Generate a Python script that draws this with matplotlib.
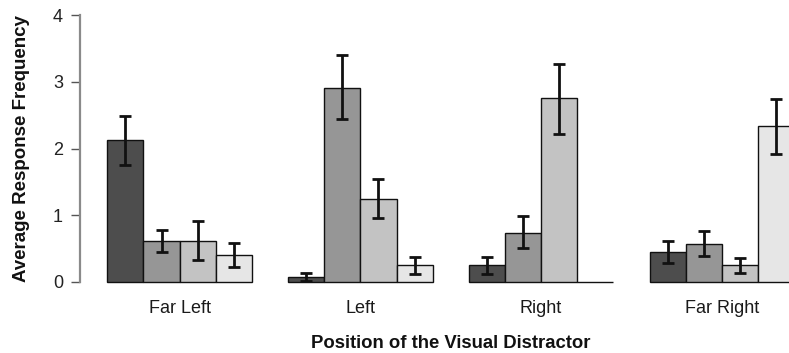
import matplotlib
matplotlib.use('Agg')
from matplotlib import pyplot as plt
import numpy as np

plt.rcParams['font.family'] = ['Liberation Sans', 'DejaVu Sans']

positions = ['Far Left', 'Left', 'Right', 'Far Right']
colors = ['#4d4d4d', '#969696', '#c3c3c3', '#e6e6e6']

# mean per condition, one list per bar shade (rows) across positions
means = [
    [2.12, 0.08, 0.25, 0.45],
    [0.62, 2.91, 0.74, 0.57],
    [0.62, 1.25, 2.75, 0.25],
    [0.41, 0.25, 0.00, 2.33],
]
err_low = [
    [1.76, 0.02, 0.12, 0.29],
    [0.45, 2.44, 0.51, 0.39],
    [0.33, 0.96, 2.22, 0.14],
    [0.23, 0.12, 0.00, 1.92],
]
err_high = [
    [2.49, 0.14, 0.38, 0.62],
    [0.78, 3.40, 0.99, 0.77],
    [0.92, 1.54, 3.27, 0.36],
    [0.59, 0.38, 0.00, 2.74],
]

W, H = 789, 353
fig = plt.figure(figsize=(W / 100, H / 100), dpi=100)
ax = fig.add_axes([80 / W, 1 - 282 / H, 1 - 80 / W, 267 / H])

n_bars = len(means)
group_start = np.arange(len(positions)) * (n_bars + 1) + 1
for i in range(n_bars):
    x = group_start + i + 0.5
    m = np.array(means[i])
    lo = m - np.array(err_low[i])
    hi = np.array(err_high[i]) - m
    ax.bar(x, m, width=1.0, color=colors[i], edgecolor='#111111',
           linewidth=1.0, clip_on=False, zorder=2)
    # no whiskers where the interval collapses to nothing
    keep = (lo + hi) > 0
    ax.errorbar(x[keep], m[keep], yerr=[lo[keep], hi[keep]], fmt='none',
                ecolor='#111111', elinewidth=2.0, capsize=4.2, capthick=2.0,
                zorder=3, clip_on=False)

ax.set_xlim(1 - 27.3 / 36.15, 1 + (789 - 107.3) / 36.15)
ax.set_ylim(0, 4)

for side in ['top', 'right', 'bottom']:
    ax.spines[side].set_visible(False)
ax.spines['left'].set_color('#8a8a8a')
ax.spines['left'].set_linewidth(1.6)
ax.spines['left'].set_bounds(0, 4)

ax.set_yticks([0, 1, 2, 3, 4])
ax.tick_params(axis='y', length=6.7, width=1.0, color='#555555', pad=5.5,
               labelsize=13, labelcolor='#222222')
ax.set_xticks([])

centers = group_start + n_bars / 2
for c, name in zip(centers, positions):
    ax.text(c, -31 / 267, name, transform=ax.get_xaxis_transform(),
            ha='center', va='baseline', fontsize=13, color='#1a1a1a')

fig.text(450.5 / W, 1 - 347.5 / H, 'Position of the Visual Distractor',
         ha='center', va='baseline', fontsize=13.3, fontweight='bold',
         color='#111111')
fig.text(22 / W, 1 - 148.5 / H, 'Average Response Frequency',
         rotation=90, ha='center', va='center', fontsize=13.5,
         fontweight='bold', color='#111111')

fig.savefig('out.png', dpi=100)
